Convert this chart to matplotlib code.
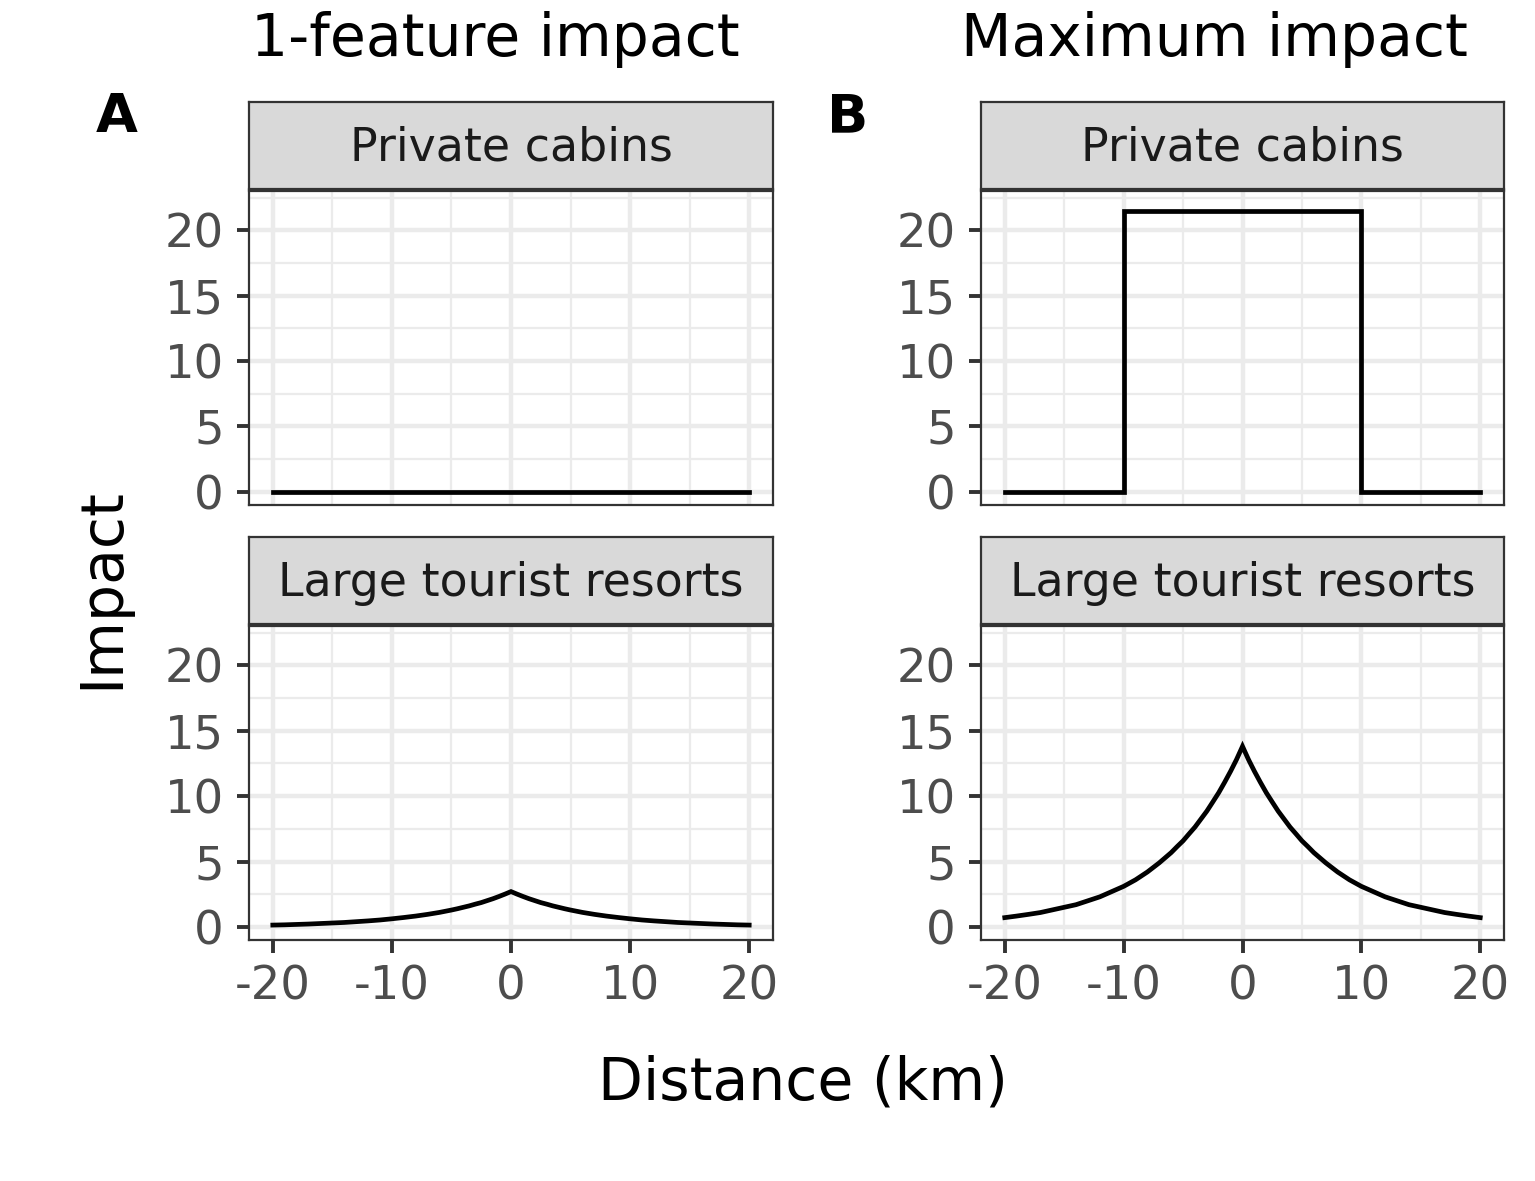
import matplotlib
matplotlib.use("Agg")
import matplotlib.pyplot as plt
from matplotlib.ticker import MultipleLocator

plt.rcParams["axes.unicode_minus"] = False

W, H = 1535, 1181

# distance grid (km), denser near the centre so the peak stays smooth
dist_km = [-20, -19, -18, -17, -16, -15, -14, -13, -12, -11, -10, -9, -8, -7,
           -6, -5.5, -5, -4.5, -4, -3.5, -3, -2.5, -2, -1.5, -1, -0.5,
           0, 0.5, 1, 1.5, 2, 2.5, 3, 3.5, 4, 4.5, 5, 5.5, 6,
           7, 8, 9, 10, 11, 12, 13, 14, 15, 16, 17, 18, 19, 20]

cabins_one = [0.0] * len(dist_km)

resort_one = [0.14, 0.16, 0.19, 0.22, 0.26, 0.30, 0.34, 0.40, 0.46, 0.53, 0.62, 0.72, 0.83, 0.96,
              1.11, 1.20, 1.29, 1.39, 1.50, 1.61, 1.74, 1.86, 2.01, 2.16, 2.33, 2.51,
              2.70, 2.51, 2.33, 2.16, 2.01, 1.86, 1.74, 1.61, 1.50, 1.39, 1.29, 1.20, 1.11,
              0.96, 0.83, 0.72, 0.62, 0.53, 0.46, 0.40, 0.34, 0.30, 0.26, 0.22, 0.19, 0.16, 0.14]

cabins_max_x = [-20, -10, -10, 10, 10, 20]
cabins_max = [0.0, 0.0, 21.5, 21.5, 0.0, 0.0]

resort_max = [0.71, 0.83, 0.96, 1.10, 1.30, 1.50, 1.70, 2.00, 2.30, 2.70, 3.10, 3.60, 4.20, 4.90,
              5.68, 6.14, 6.58, 7.11, 7.63, 8.24, 8.85, 9.55, 10.26, 11.06, 11.90, 12.80,
              13.80, 12.80, 11.90, 11.06, 10.26, 9.55, 8.85, 8.24, 7.63, 7.11, 6.58, 6.14, 5.68,
              4.90, 4.20, 3.60, 3.10, 2.70, 2.30, 2.00, 1.70, 1.50, 1.30, 1.10, 0.96, 0.83, 0.71]

col_titles = ["1-feature impact", "Maximum impact"]
panel_tags = ["A", "B"]
facet_labels = ["Private cabins", "Large tourist resorts"]
x_ticks = [-20, -10, 0, 10, 20]
y_ticks = [0, 5, 10, 15, 20]

panels = {
    (0, 0): (dist_km, cabins_one),
    (0, 1): (dist_km, resort_one),
    (1, 0): (cabins_max_x, cabins_max),
    (1, 1): (dist_km, resort_max),
}

fig = plt.figure(figsize=(W / 100, H / 100), dpi=100)


def rect(x0, y0, x1, y1):
    # pixel box (top-left origin) -> figure fraction
    return [x0 / W, 1 - y1 / H, (x1 - x0) / W, (y1 - y0) / H]


col_x = [(249, 773), (981, 1504)]
row_y = [((102, 189), (191, 505)), ((537, 624), (626, 940))]
edge = "#333333"

for c, (x0, x1) in enumerate(col_x):
    for r, (strip_y, ax_y) in enumerate(row_y):
        ax = fig.add_axes(rect(x0, ax_y[0], x1, ax_y[1]))
        xs, ys = panels[(c, r)]
        ax.plot(xs, ys, color="black", lw=3.4, solid_joinstyle="miter", zorder=3)
        ax.set_xlim(-22, 22)
        ax.set_ylim(-1.0, 23.0)
        ax.set_xticks(x_ticks)
        ax.set_yticks(y_ticks)
        ax.xaxis.set_minor_locator(MultipleLocator(5))
        ax.yaxis.set_minor_locator(MultipleLocator(2.5))
        ax.grid(which="major", color="#EBEBEB", lw=3.2)
        ax.grid(which="minor", color="#EBEBEB", lw=1.6)
        ax.set_axisbelow(True)
        ax.tick_params(which="minor", length=0)
        ax.tick_params(which="major", length=9, width=2.8, color=edge,
                       labelsize=33.5, labelcolor="#4D4D4D", pad=9)
        if r == 0:
            ax.tick_params(axis="x", which="major", length=0, labelbottom=False)
        for s in ax.spines.values():
            s.set_color(edge)
            s.set_linewidth(1.6)

        sax = fig.add_axes(rect(x0, strip_y[0], x1, strip_y[1]))
        sax.set_facecolor("#D9D9D9")
        sax.set_xticks([])
        sax.set_yticks([])
        for s in sax.spines.values():
            s.set_color(edge)
            s.set_linewidth(1.6)
        sax.text(0.5, 0.47, facet_labels[r], ha="center", va="center",
                 fontsize=33, color="#1A1A1A", transform=sax.transAxes)

# column titles and panel tags
fig.text(495 / W, 1 - 40 / H, col_titles[0], ha="center", va="center", fontsize=42)
fig.text(1214 / W, 1 - 40 / H, col_titles[1], ha="center", va="center", fontsize=42)
fig.text(117 / W, 1 - 117 / H, panel_tags[0], ha="center", va="center", fontsize=39, fontweight="bold")
fig.text(848 / W, 1 - 117 / H, panel_tags[1], ha="center", va="center", fontsize=39, fontweight="bold")

# shared axis titles
fig.text(102 / W, 1 - 588 / H, "Impact", ha="center", va="center", rotation=90, fontsize=42)
fig.text(803 / W, 1 - 1083 / H, "Distance (km)", ha="center", va="center", fontsize=42)

fig.savefig("out.png", dpi=100, facecolor="white")
